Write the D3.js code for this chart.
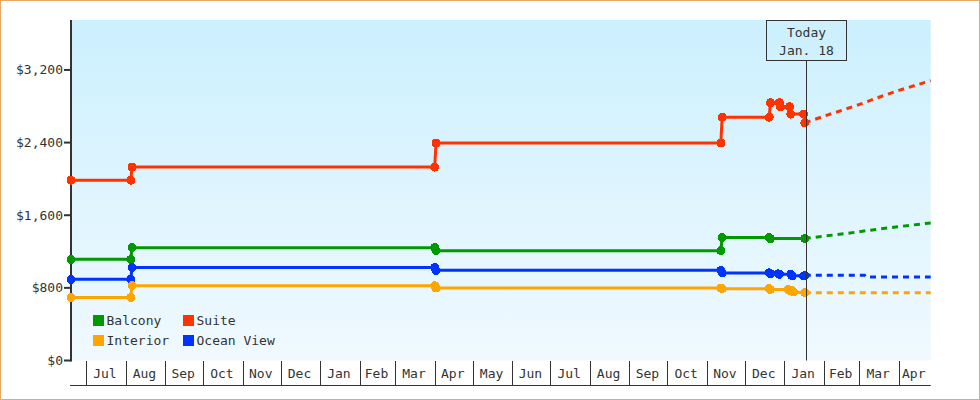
<!DOCTYPE html>
<html>
<head>
<meta charset="utf-8">
<script src="https://cdn.jsdelivr.net/npm/d3@7"></script>
<style>
  html, body { margin: 0; padding: 0; background: #fff; }
  svg { display: block; }
  text { font-family: "DejaVu Sans Mono", "Liberation Mono", monospace; font-size: 13px; fill: #333; }
</style>
</head>
<body>
<svg id="chart" width="980" height="400"></svg>
<script>
// ---------- DATA ----------
const domainStart = "2017-06-19";
const domainEnd = "2019-04-26";
const todayDate = "2019-01-18";
const todayLabel = ["Today", "Jan. 18"];

const yTicks = [0, 800, 1600, 2400, 3200];
const yMax = 3750;

const monthLabels = ["Jul","Aug","Sep","Oct","Nov","Dec","Jan","Feb","Mar","Apr","May","Jun",
                     "Jul","Aug","Sep","Oct","Nov","Dec","Jan","Feb","Mar","Apr"];

const seriesNames = ["Balcony", "Suite", "Interior", "Ocean View"];
const seriesColors = ["#009900", "#ff3300", "#ffa500", "#0033ff"];

// Suite (actual)
const suiteDates  = ["2017-06-19","2017-08-05","2017-08-06","2018-04-01","2018-04-02","2018-11-12","2018-11-13",
                     "2018-12-20","2018-12-21","2018-12-28","2018-12-29","2019-01-05","2019-01-06","2019-01-16","2019-01-17"];
const suiteValues = [1986, 1986, 2130, 2130, 2395, 2395, 2680, 2680, 2840, 2840, 2795, 2795, 2714, 2714, 2618];
// Suite (projected)
const suiteProjDates  = ["2019-01-17","2019-02-01","2019-02-15","2019-03-01","2019-03-15","2019-04-01","2019-04-15","2019-04-26"];
const suiteProjValues = [2618, 2690, 2755, 2820, 2893, 2975, 3035, 3082];

// Balcony (actual)
const balconyDates  = ["2017-06-19","2017-08-05","2017-08-06","2018-04-01","2018-04-02","2018-11-12","2018-11-13",
                       "2018-12-20","2018-12-21","2019-01-17"];
const balconyValues = [1114, 1114, 1243, 1243, 1210, 1210, 1354, 1354, 1343, 1343];
// Balcony (projected)
const balconyProjDates  = ["2019-01-17","2019-01-27","2019-02-20","2019-03-06","2019-03-31","2019-04-26"];
const balconyProjValues = [1343, 1361, 1401, 1429, 1473, 1515];

// Ocean View (actual)
const oceanDates  = ["2017-06-19","2017-08-05","2017-08-06","2018-04-01","2018-04-02","2018-11-12","2018-11-13",
                     "2018-12-20","2018-12-21","2018-12-27","2018-12-28","2019-01-06","2019-01-07","2019-01-16","2019-01-17"];
const oceanValues = [894, 894, 1023, 1023, 993, 993, 965, 965, 955, 955, 950, 950, 932, 932, 935];
// Ocean View (projected)
const oceanProjDates  = ["2019-01-17","2019-03-05","2019-03-06","2019-04-26"];
const oceanProjValues = [938, 938, 920, 920];

// Interior (actual)
const interiorDates  = ["2017-06-19","2017-08-05","2017-08-06","2018-04-01","2018-04-02","2018-11-12","2018-11-13",
                        "2018-12-20","2018-12-21","2019-01-04","2019-01-05","2019-01-07","2019-01-08","2019-01-17"];
const interiorValues = [695, 695, 824, 824, 798, 798, 791, 791, 782, 782, 772, 772, 755, 747];
// Interior (projected)
const interiorProjDates  = ["2019-01-17","2019-04-26"];
const interiorProjValues = [747, 747];

// ---------- CHART ----------
const parse = d3.timeParse("%Y-%m-%d");
const svg = d3.select("#chart");
const W = 980, H = 400;
const plot = { left: 71, right: 930.7, top: 20, bottom: 360.5 };

const x = d3.scaleTime().domain([parse(domainStart), parse(domainEnd)]).range([plot.left, plot.right]);
const y = d3.scaleLinear().domain([0, yMax]).range([plot.bottom, plot.top]);

// outer border
svg.append("rect").attr("x", 0.5).attr("y", 0.5).attr("width", W - 1).attr("height", H - 1)
  .attr("fill", "#fff").attr("stroke", "#e9a865").attr("stroke-width", 1);

// background gradient
const defs = svg.append("defs");
const grad = defs.append("linearGradient").attr("id", "bg").attr("x1", 0).attr("y1", 0).attr("x2", 0).attr("y2", 1);
grad.append("stop").attr("offset", "0%").attr("stop-color", "#ccf0fe");
grad.append("stop").attr("offset", "100%").attr("stop-color", "#f0f9ff");
svg.append("rect").attr("x", plot.left).attr("y", plot.top)
  .attr("width", plot.right - plot.left).attr("height", plot.bottom - plot.top)
  .attr("fill", "url(#bg)");

// y axis
const yAxisG = svg.append("g").attr("transform", `translate(${plot.left},0)`);
yAxisG.append("line").attr("x1", 0).attr("x2", 0).attr("y1", plot.top).attr("y2", plot.bottom + 1)
  .attr("stroke", "#333").attr("stroke-width", 2);
yTicks.forEach(v => {
  yAxisG.append("line").attr("x1", -7).attr("x2", 0).attr("y1", y(v)).attr("y2", y(v))
    .attr("stroke", "#333").attr("stroke-width", 2);
  yAxisG.append("text").attr("x", -8).attr("y", y(v)).attr("dy", "0.35em")
    .attr("text-anchor", "end").text("$" + d3.format(",")(v));
});

// x axis band
const bandTop = 361, bandBottom = 385.5;
const monthStarts = d3.timeMonth.range(d3.timeMonth.ceil(x.domain()[0]), x.domain()[1]);
const xg = svg.append("g");
xg.append("line").attr("x1", plot.left - 1).attr("x2", plot.right).attr("y1", bandBottom).attr("y2", bandBottom)
  .attr("stroke", "#333").attr("stroke-width", 1);
monthStarts.forEach((m, i) => {
  const px = Math.round(x(m)) + 0.5;
  xg.append("line").attr("x1", px).attr("x2", px).attr("y1", bandTop).attr("y2", bandBottom)
    .attr("stroke", "#333").attr("stroke-width", 1);
  const next = d3.timeMonth.offset(m, 1);
  const x1 = x(m), x2 = Math.min(x(next), plot.right);
  xg.append("text").attr("x", (x1 + x2) / 2 - 1).attr("y", 378)
    .attr("text-anchor", "middle").text(monthLabels[i]);
});

// series
const series = [
  { name: "Suite", color: seriesColors[1], d: suiteDates, v: suiteValues, pd: suiteProjDates, pv: suiteProjValues },
  { name: "Balcony", color: seriesColors[0], d: balconyDates, v: balconyValues, pd: balconyProjDates, pv: balconyProjValues },
  { name: "Ocean View", color: seriesColors[3], d: oceanDates, v: oceanValues, pd: oceanProjDates, pv: oceanProjValues },
  { name: "Interior", color: seriesColors[2], d: interiorDates, v: interiorValues, pd: interiorProjDates, pv: interiorProjValues }
];

const line = d3.line().x(p => x(p[0])).y(p => y(p[1]));
const lg = svg.append("g");
series.forEach(s => {
  const pts = s.d.map((d, i) => [parse(d), s.v[i]]);
  const proj = s.pd.map((d, i) => [parse(d), s.pv[i]]);
  lg.append("path").attr("d", line(proj)).attr("fill", "none").attr("stroke", s.color)
    .attr("stroke-width", 3).attr("stroke-dasharray", "6,5");
  lg.append("path").attr("d", line(pts)).attr("fill", "none").attr("stroke", s.color)
    .attr("stroke-width", 3).attr("stroke-linejoin", "round");
  lg.selectAll(null).data(pts).enter().append("path")
    .attr("d", d3.symbol().type(d3.symbolCircle).size(64)())
    .attr("transform", p => `translate(${x(p[0])},${y(p[1])})`)
    .attr("fill", s.color).attr("shape-rendering", "crispEdges");
});

// today marker
const tx = Math.round(x(parse(todayDate))) + 0.5;
const boxW = 80, boxTop = 20.5, boxH = 40;
svg.append("line").attr("x1", tx).attr("x2", tx).attr("y1", boxTop + boxH).attr("y2", plot.bottom)
  .attr("stroke", "#333").attr("stroke-width", 1);
svg.append("rect").attr("x", tx - boxW / 2).attr("y", boxTop).attr("width", boxW).attr("height", boxH)
  .attr("fill", "none").attr("stroke", "#333").attr("stroke-width", 1);
svg.append("text").attr("x", tx).attr("y", 37).attr("text-anchor", "middle").text(todayLabel[0]);
svg.append("text").attr("x", tx).attr("y", 55).attr("text-anchor", "middle").text(todayLabel[1]);

// legend
const legendPos = [[93, 315], [183, 315], [93, 335], [183, 335]];
seriesNames.forEach((name, k) => {
  const [lx, ly] = legendPos[k];
  svg.append("rect").attr("x", lx).attr("y", ly).attr("width", 11).attr("height", 11).attr("fill", seriesColors[k]);
  svg.append("text").attr("x", lx + 13.5).attr("y", ly + 10).text(name);
});
</script>
</body>
</html>
